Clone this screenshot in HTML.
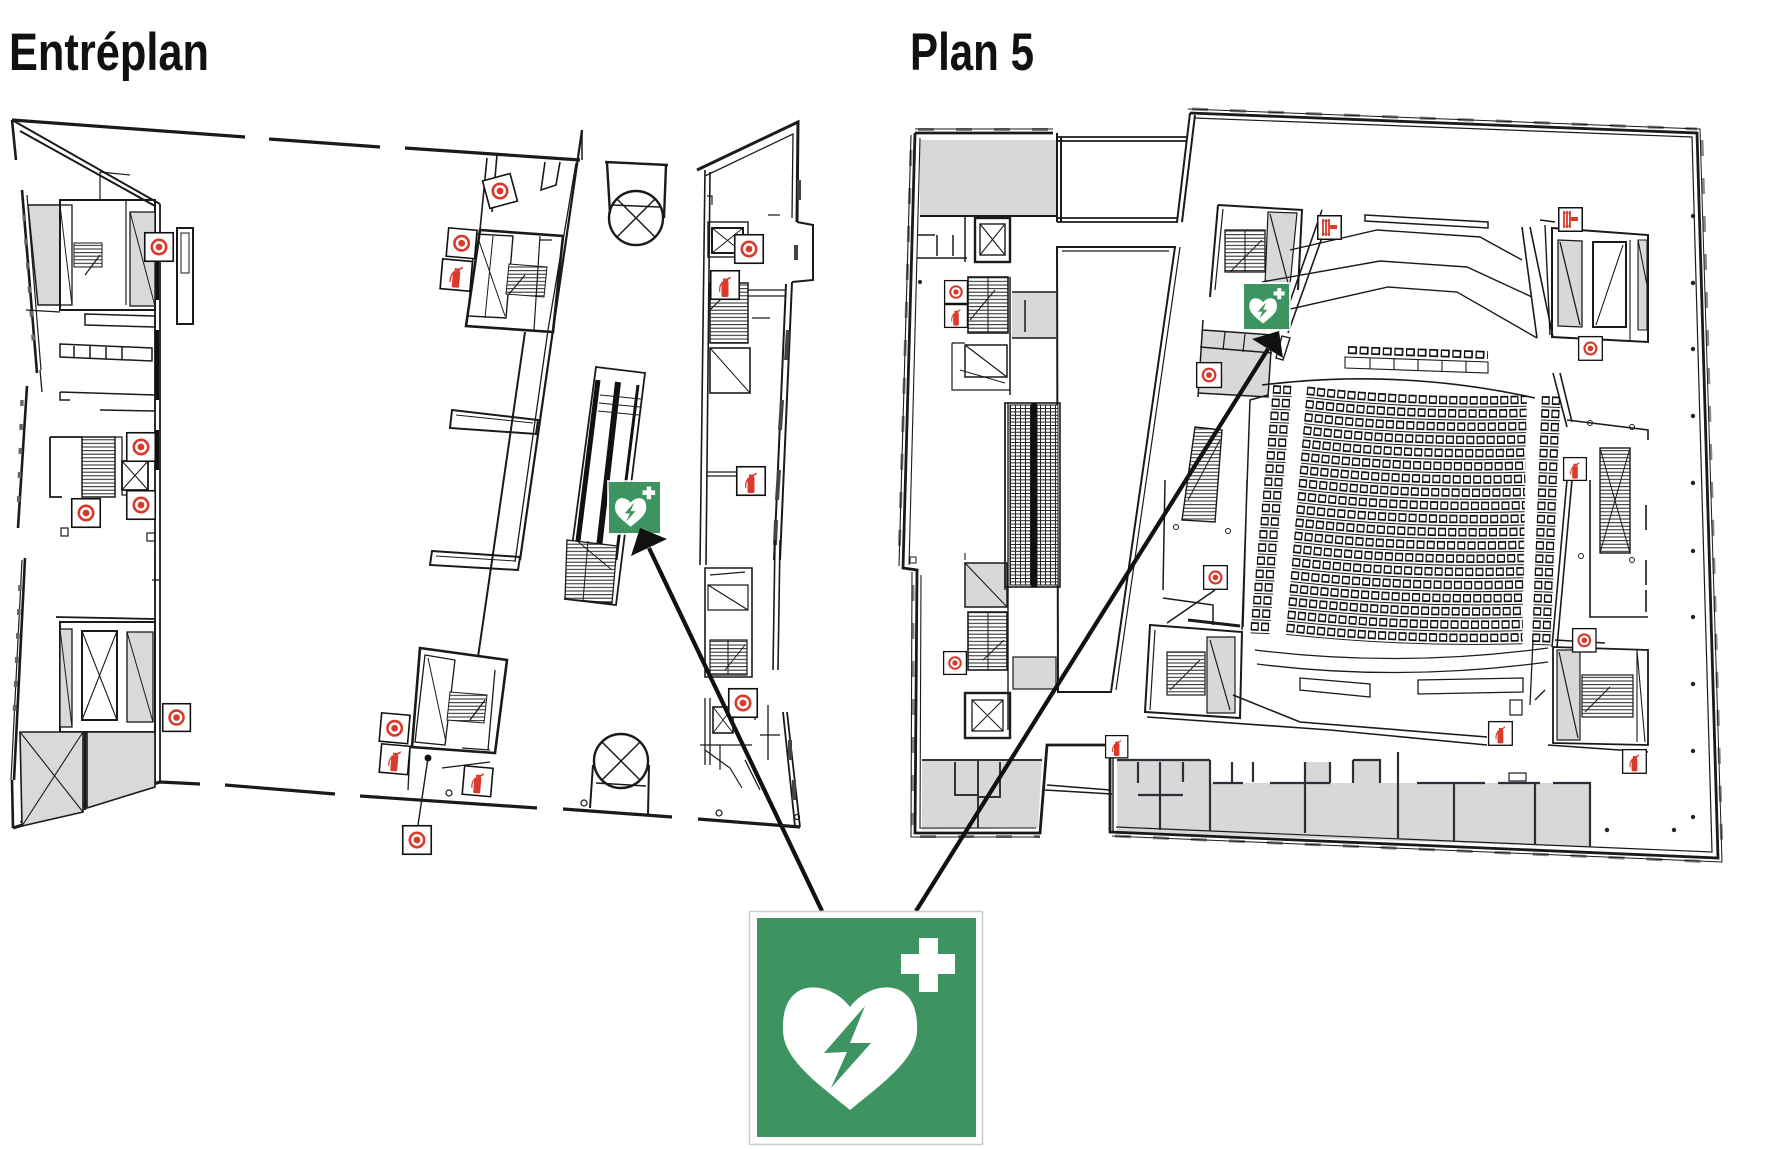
<!DOCTYPE html>
<html><head><meta charset="utf-8"><style>html,body{margin:0;padding:0;background:#fff}svg{display:block}</style></head>
<body>
<svg width="1770" height="1150" viewBox="0 0 1770 1150" xmlns="http://www.w3.org/2000/svg">
<defs>
 <g id="tg"><rect x="0.75" y="0.75" width="28.5" height="28.5" fill="#fff" stroke="#111" stroke-width="1.6"/><circle cx="15" cy="15" r="7.2" fill="none" stroke="#d83a2c" stroke-width="2.6"/><circle cx="15" cy="15" r="3.4" fill="#d83a2c"/></g>
 <g id="ex"><rect x="0.75" y="0.75" width="28.5" height="28.5" fill="#fff" stroke="#111" stroke-width="1.6"/><path d="M11.5,11.5 h7 v14 q0,1.5 -1.5,1.5 h-4 q-1.5,0 -1.5,-1.5z" fill="#d83a2c"/><path d="M13,11.5 v-3 h4 l3.5,-2 v2 l-2.5,1.2 v1.8z" fill="#d83a2c"/><path d="M12,13 q-3,3 -2.2,9" stroke="#d83a2c" stroke-width="1.3" fill="none"/></g>
 <g id="hr"><rect x="0.75" y="0.75" width="23.5" height="23.5" fill="#fff" stroke="#111" stroke-width="1.5"/><path d="M6,4 v17 M9,4 v17 M12,4 v17" stroke="#d83a2c" stroke-width="1.8"/><path d="M5,6 h8 M5,19 h8" stroke="#d83a2c" stroke-width="1.2"/><rect x="13" y="10" width="7" height="4" fill="#d83a2c"/></g>
 <g id="aed"><rect width="219" height="219" fill="#3d9461"/><path d="M93,89 C113,62 162,57 160,112 C160,142 123,167 93,192 C63,167 26,142 26,112 C24,57 73,62 93,89 Z" fill="#fff"/><path d="M108,88 L67,135 L90,134 L74,170 L114,125 L93,125 Z" fill="#3d9461"/><path d="M162,20 h19 v16 h17 v20 h-17 v18 h-19 v-18 h-18 v-20 h18 z" fill="#fff"/></g>
 <pattern id="st" width="10" height="3.6" patternUnits="userSpaceOnUse"><rect width="10" height="3.6" fill="#fff"/><path d="M0,0.6 h10" stroke="#222" stroke-width="1"/></pattern>
 <pattern id="esc" width="5" height="3.4" patternUnits="userSpaceOnUse"><rect width="5" height="3.4" fill="#fff"/><path d="M0,0.5 h5 M0.5,0 v3.4" stroke="#222" stroke-width="1"/></pattern>
 <path id="rows" d="M1302,395 Q1410,403 1522,395 M1268,395 h19 M1537,395 h19
M1301.4,408.2 Q1410,416.2 1522.3,408.2 M1267.3,408.2 h19 M1537,408.2 h19
M1300.8,421.4 Q1410,429.4 1522.6,421.4 M1266.6,421.4 h19 M1537,421.4 h19
M1300.2,434.6 Q1410,442.6 1522.9,434.6 M1265.9,434.6 h19 M1537,434.6 h19
M1299.6,447.8 Q1410,455.8 1523.2,447.8 M1265.2,447.8 h19 M1537,447.8 h19
M1299,461 Q1410,469 1523.5,461 M1264.5,461 h19 M1537,461 h19
M1298.4,474.2 Q1410,482.2 1523.8,474.2 M1263.8,474.2 h19 M1537,474.2 h19
M1297.8,487.4 Q1410,495.4 1524.1,487.4 M1263.1,487.4 h19 M1537,487.4 h19
M1297.2,500.6 Q1410,508.6 1524.4,500.6 M1262.4,500.6 h19 M1537,500.6 h19
M1296.6,513.8 Q1410,521.8 1524.7,513.8 M1261.7,513.8 h19 M1537,513.8 h19
M1296,527 Q1410,535 1525,527 M1261,527 h19 M1537,527 h19
M1295.4,540.2 Q1410,548.2 1525.3,540.2 M1260.3,540.2 h19 M1537,540.2 h19
M1294.8,553.4 Q1410,561.4 1525.6,553.4 M1259.6,553.4 h19 M1537,553.4 h19
M1294.2,566.6 Q1410,574.6 1525.9,566.6 M1258.9,566.6 h19 M1537,566.6 h19
M1293.6,579.8 Q1410,587.8 1526.2,579.8 M1258.2,579.8 h19 M1537,579.8 h19
M1293,593 Q1410,601 1526.5,593 M1257.5,593 h19 M1537,593 h19
M1292.4,606.2 Q1410,614.2 1526.8,606.2 M1256.8,606.2 h19 M1537,606.2 h19
M1291.8,619.4 Q1410,627.4 1527.1,619.4 M1256.1,619.4 h19 M1537,619.4 h19
M1291.2,632.6 Q1410,640.6 1527.4,632.6 M1255.4,632.6 h19 M1537,632.6 h19"/>
</defs>

<rect width="1770" height="1150" fill="#fff"/>

<!-- Titles -->
<text x="9" y="70" font-family="'Liberation Sans Narrow','Liberation Sans',sans-serif" font-weight="bold" font-size="53" textLength="200" lengthAdjust="spacingAndGlyphs" fill="#111">Entréplan</text>
<text x="910" y="70" font-family="'Liberation Sans Narrow','Liberation Sans',sans-serif" font-weight="bold" font-size="53" textLength="124" lengthAdjust="spacingAndGlyphs" fill="#111">Plan 5</text>

<!-- ================= LEFT PLAN (Entréplan) ================= -->
<g fill="none" stroke="#1a1a1a" stroke-linejoin="miter">
 <path d="M12,120 L245,137 M269,139 L380,147 M405,148 L580,160" stroke-width="3.2"/>
 <path d="M12,120 L160,204 M20,131 L155,206" stroke-width="2"/>
 <path d="M12,120 L16,160 M22,190 L37,373 M27,386 L18,528 M25,558 L14,780 M12,780 L13,828" stroke-width="2.6"/>
 <path d="M27,195 L41,370 M22,560 L11,780" stroke-width="1.2"/>
 <path d="M24,215 L34,350 M22,400 L18,520 M20,585 L14,720" stroke="#666" stroke-width="3.5" stroke-dasharray="6 18"/>
 <path d="M13,828 L160,782 M160,782 L200,784 M225,785 L335,794 M360,796 L537,808 M563,809 L672,817 M698,819 L800,827" stroke-width="3.2"/>
 <path d="M20,822 L156,780" stroke-width="1.3"/>
 <path d="M160,204 L160,782 M155,206 L155,782" stroke-width="1.8"/>
 <path d="M157,252 L157,300 M157,330 L157,400 M157,430 L157,470" stroke="#111" stroke-width="4"/>
 <path d="M28,205 L60,205 L60,305 L38,305 Z" fill="#d9d9d9" stroke-width="1.5"/>
 <rect x="60" y="200" width="95" height="110" stroke-width="2"/>
 <rect x="60" y="205" width="12" height="100" stroke-width="1.3"/>
 <path d="M60,205 L72,305" stroke-width="1"/>
 <rect x="74" y="243" width="28" height="24" fill="url(#st)" stroke-width="1"/>
 <path d="M85,275 L100,255 M126,200 L126,305 M100,172 L130,175 M100,172 L100,200" stroke-width="1.2"/>
 <rect x="130" y="212" width="25" height="94" fill="#d9d9d9" stroke-width="1.3"/>
 <path d="M130,212 L155,306" stroke-width="1"/>
 <rect x="177" y="228" width="16" height="96" stroke-width="2"/>
 <rect x="181" y="233" width="8" height="40" stroke-width="1"/>
 <path d="M85,314 L155,316 L155,327 L85,325 Z" stroke-width="1.5"/>
 <path d="M60,344 L152,348 L152,361 L60,357 Z M74,346 L74,358 M90,346 L90,359 M106,347 L106,360 M122,347 L122,360" stroke-width="1.5"/>
 <path d="M60,392 L155,395 L155,411 L100,410 M60,392 L60,400 L70,400" stroke-width="1.5"/>
 <path d="M26,310 L60,312 M40,370 L42,392" stroke-width="1.3"/>
 <path d="M50,437 L82,437 M50,437 L50,497 L62,497" stroke-width="1.8"/>
 <rect x="82" y="437" width="33" height="60" fill="url(#st)" stroke-width="1.5"/>
 <rect x="122" y="461" width="26" height="29" stroke-width="1.8"/>
 <path d="M122,461 L148,490 M148,461 L122,490" stroke-width="1.1"/>
 <path d="M115,437 L122,437 L122,495 L126,495" stroke-width="1.3"/>
 <rect x="61" y="528" width="7" height="8" stroke-width="1.2"/>
 <rect x="147" y="533" width="8" height="8" stroke-width="1.2"/>
 <path d="M56,617 L155,619" stroke-width="1.8"/>
 <rect x="60" y="622" width="95" height="110" stroke-width="2"/>
 <rect x="60" y="629" width="12" height="98" fill="#d9d9d9" stroke-width="1.3"/>
 <path d="M60,629 L72,727" stroke-width="1"/>
 <rect x="82" y="631" width="35" height="89" stroke-width="2"/>
 <path d="M82,631 L117,720 M117,631 L82,720" stroke-width="1.1"/>
 <rect x="127" y="632" width="26" height="90" fill="#d9d9d9" stroke-width="1.3"/>
 <path d="M127,632 L153,722" stroke-width="1"/>
 <path d="M155,555 L155,600 M152,580 L160,580" stroke-width="1.3"/>
 <path d="M20,732 L83,732 L83,812 L22,826 Z" fill="#d9d9d9" stroke-width="1.6"/>
 <path d="M20,732 L83,812 M83,732 L22,826" stroke-width="1.1"/>
 <path d="M87,732 L155,732 L155,787 L87,808 Z" fill="#d9d9d9" stroke-width="1.6"/>
 <path d="M85,732 L85,810" stroke-width="2.4"/>

 <path d="M487,158 L480,230 M497,155 L492,212 M545,162 L541,190 L556,185 L560,162" stroke-width="1.6"/>
 <path d="M480,230 L563,236 L553,332 L466,326 Z" stroke-width="2.6"/>
 <path d="M475,234 L513,236 L506,318 L468,316 Z" stroke-width="1.4"/>
 <path d="M478,238 L505,316 M493,236 L485,318" stroke-width="1"/>
 <path d="M509,264 L547,267 L544,297 L506,294 Z" fill="url(#st)" stroke-width="1"/>
 <path d="M509,294 L525,275 M540,236 L534,330 M540,240 L552,240" stroke-width="1.2"/>
 <path d="M582,130 L553,330 L520,560" stroke-width="2.2"/>
 <path d="M576,163 L548,330 L515,562" stroke-width="1.3"/>
 <path d="M525,332 L495,540 L478,657" stroke-width="2"/>
 <path d="M452,410 L538,420 L536,434 L450,428 Z" stroke-width="2"/>
 <path d="M456,415 L533,423" stroke-width="1"/>
 <path d="M432,551 L520,557 L518,570 L430,565 Z" stroke-width="2"/>
 <path d="M436,556 L515,561" stroke-width="1"/>
 <path d="M420,648 L507,660 L495,753 L412,747 Z" stroke-width="2.6"/>
 <path d="M425,655 L455,660 L445,745 L415,742 Z" stroke-width="1.3"/>
 <path d="M428,658 L446,742" stroke-width="1"/>
 <path d="M450,692 L487,695 L484,723 L447,720 Z" fill="url(#st)" stroke-width="1"/>
 <path d="M470,720 L485,700 M495,670 L488,750 M462,748 L490,750 M442,768 L490,762 M410,750 L408,790" stroke-width="1.3"/>
 <path d="M418,825 L428,758" stroke-width="1.4"/>
 <circle cx="428" cy="758" r="3" fill="#111"/>
 <circle cx="449" cy="793" r="3" stroke-width="1.2"/>
 <circle cx="584" cy="803" r="3" stroke-width="1.2"/>
 <circle cx="719" cy="813" r="3" stroke-width="1.2"/>
 <circle cx="797" cy="817" r="2.5" stroke-width="1.2"/>
 <path d="M605,162 L668,165 M607,163 L610,213 M666,165 L664,218" stroke-width="2.4"/>
 <circle cx="636" cy="218" r="27" stroke-width="2.4"/>
 <path d="M617,199 L655,237 M655,199 L617,237 M612,205 L660,207" stroke-width="1.5"/>
 <circle cx="621" cy="761" r="27" stroke-width="2.4"/>
 <path d="M602,742 L640,780 M640,742 L602,780 M596,783 L646,786" stroke-width="1.5"/>
 <path d="M593,765 L590,808 M649,765 L648,815" stroke-width="2"/>
 <path d="M596,367 L645,373 L616,605 L565,599 Z" stroke-width="1.8"/>
 <path d="M598,380 L575,565" stroke="#111" stroke-width="5"/>
 <path d="M618,382 L597,565" stroke="#111" stroke-width="6"/>
 <path d="M638,385 L616,560" stroke="#111" stroke-width="3"/>
 <path d="M600,395 L641,399 M599,403 L640,407 M598,411 L639,415" stroke-width="1"/>
 <path d="M567,540 L617,546 L612,603 L565,599 Z" fill="url(#st)" stroke-width="1.3"/>
 <path d="M588,541 L583,601 M576,540 L612,570" stroke-width="1"/>

 <path d="M697,170 L798,122 L797,222" stroke-width="3"/>
 <path d="M705,176 L793,134 L792,218" stroke-width="1.3"/>
 <path d="M797,222 L813,225 L813,280 L792,282 M792,282 L780,560 M786,284 L774,560" stroke-width="2"/>
 <path d="M705,170 L700,565 M710,172 L706,565" stroke-width="1.6"/>
 <path d="M799,180 L799,200 M796,245 L796,260 M788,330 L786,360 M782,400 L780,430 M779,470 L777,500 M776,520 L775,545" stroke="#444" stroke-width="4"/>
 <path d="M780,540 L778,670 M775,540 L773,670" stroke-width="1.6"/>
 <path d="M787,712 L800,827 M783,712 L795,826" stroke-width="1.8"/>
 <path d="M790,740 L790,760 M794,780 L794,800" stroke="#444" stroke-width="4"/>
 <rect x="708" y="222" width="40" height="35" stroke-width="1.4"/>
 <rect x="712" y="228" width="31" height="25" stroke-width="2"/>
 <path d="M712,228 L743,253 M743,228 L712,253" stroke-width="1"/>
 <path d="M707,196 L712,196 L712,205 M768,215 L780,215" stroke-width="1.2"/>
 <rect x="710" y="283" width="38" height="60" fill="url(#st)" stroke-width="1.5"/>
 <path d="M710,310 L730,290 M748,290 L785,290 M748,296 L785,296 M752,318 L770,318" stroke-width="1.2"/>
 <rect x="710" y="348" width="40" height="45" stroke-width="1.6"/>
 <path d="M710,348 L750,393" stroke-width="1"/>
 <path d="M706,472 L736,472 M706,476 L736,476" stroke-width="1.2"/>
 <path d="M705,568 L752,568 L752,677 L705,677 Z" stroke-width="1.6"/>
 <path d="M710,575 L745,572 M708,585 L748,585 L748,610 L708,610 Z M708,585 L748,610" stroke-width="1.2"/>
 <rect x="710" y="640" width="37" height="35" fill="url(#st)" stroke-width="1.2"/>
 <path d="M725,670 L745,645 M728,640 L728,675" stroke-width="1"/>
 <path d="M705,698 L705,765 M710,698 L710,765 M700,745 L752,745 M745,760 L760,790 M755,700 L755,720 M768,705 L768,760 M760,735 L780,735" stroke-width="1.3"/>
 <rect x="713" y="707" width="20" height="26" stroke-width="1.6"/>
 <path d="M713,707 L733,733 M733,707 L713,733" stroke-width="1"/>
 <path d="M705,750 L730,768 L742,788 M720,745 L720,770" stroke-width="1.2"/>
 <path d="M582,130 L582,160" stroke-width="1.5"/>
</g>

<use href="#tg" transform="translate(144,232)"/>
<use href="#tg" transform="translate(126,432)"/>
<use href="#tg" transform="translate(126,490)"/>
<use href="#tg" transform="translate(71,498)"/>
<use href="#tg" transform="translate(162,703) scale(0.97)"/>
<use href="#tg" transform="translate(500,191) rotate(-15) translate(-15,-15)"/>
<use href="#tg" transform="translate(448,227) rotate(5)"/>
<use href="#ex" transform="translate(442,258) rotate(5) scale(1.05)"/>
<use href="#tg" transform="translate(734,234)"/>
<use href="#ex" transform="translate(710,270)"/>
<use href="#ex" transform="translate(736,466)"/>
<use href="#tg" transform="translate(728,688)"/>
<use href="#tg" transform="translate(381,712) rotate(5)"/>
<use href="#ex" transform="translate(381,743) rotate(5)"/>
<use href="#ex" transform="translate(464,765) rotate(5)"/>
<use href="#tg" transform="translate(402,825)"/>

<!-- ================= RIGHT PLAN (Plan 5) ================= -->
<g fill="#d8d8d8" stroke="none">
 <path d="M920,140 L1056,140 L1056,215 L920,215 Z"/>
 <path d="M922,760 L1042,760 L1038,828 L922,830 Z"/>
 <path d="M1117,760 L1210,760 L1210,783 L1590,783 L1590,847 L1117,832 Z"/>
 <rect x="1305" y="762" width="25" height="21"/>
 <rect x="1353" y="760" width="27" height="23"/>
 <rect x="1012" y="292" width="44" height="46"/>
 <rect x="965" y="563" width="42" height="44"/>
 <rect x="1013" y="657" width="43" height="32"/>
 <path d="M1203,330 L1272,335 L1268,397 L1198,393 Z"/>
 <path d="M1268,212 L1297,213 L1290,285 L1265,285 Z"/>
 <rect x="1207" y="637" width="28" height="76"/>
 <path d="M1558,240 L1582,241 L1582,327 L1558,326 Z"/>
 <rect x="1638" y="240" width="9" height="90"/>
 <rect x="1557" y="650" width="23" height="90"/>
</g>

<g fill="none" stroke="#1a1a1a">
 <!-- window bumps (subtle) -->
 <g stroke="#888" stroke-width="3" stroke-dasharray="16 22">
  <path d="M918,129.5 L1053,129.5"/>
  <path d="M1192,109 L1697,129"/>
  <path d="M1702,140 L1722,855"/>
  <path d="M1115,836 L1715,862"/>
  <path d="M920,836.5 L1040,836.5"/>
  <path d="M911,150 L899,560"/>
  <path d="M913,585 L913,825"/>
 </g>
 <!-- outer walls -->
 <path d="M1190,113 L1697,133 L1718,858 L1110,832 L1110,757" stroke-width="2.8"/>
 <path d="M1194,118 L1692,137 L1712,852 L1116,827" stroke-width="1.2"/>
 <path d="M1188,109 L1700,129 L1722,862 L1112,836" stroke-width="1"/>
 <path d="M915,133 L1053,133" stroke-width="2.8"/>
 <path d="M915,129 L1053,129" stroke-width="1"/>
 <path d="M915,133 L903,568 L917,570 L915,833 L1040,833 L1047,745 L1105,745" stroke-width="2.8"/>
 <path d="M920,138 L909,565 M921,575 L920,828 L1036,828 M911,135 L899,566 M912,572 L911,837 L1040,837" stroke-width="1.1"/>
 <path d="M1047,785 L1110,790 M1045,790 L1112,794" stroke-width="1.4"/>
 <path d="M1057,133 L1057,222 M1061,137 L1061,222" stroke-width="2"/>
 <path d="M1057,137 L1188,137 M1057,141 L1187,141 M1057,222 L1178,222 M1057,218 L1178,218" stroke-width="1.8"/>
 <path d="M1190,113 L1177,222 M1195,115 L1182,222" stroke-width="2"/>
 <path d="M1057,247 L1175,247 L1111,692 L1058,692 Z" stroke-width="2"/>
 <path d="M1062,251 L1169,251 M1180,247 L1116,690" stroke-width="1.2"/>
 <path d="M920,216 L1056,216" stroke-width="2"/>
 <path d="M917,235 L935,235 M937,235 L937,256 M953,235 L953,256 M917,258 L967,258 M965,217 L965,262" stroke-width="1.5"/>
 <rect x="975" y="218" width="35" height="44" stroke-width="2.4"/>
 <rect x="980" y="224" width="25" height="31" stroke-width="1.4"/>
 <path d="M980,224 L1005,255 M1005,224 L980,255" stroke-width="1.1"/>
 <rect x="968" y="277" width="40" height="56" fill="url(#st)" stroke-width="1.6"/>
 <path d="M970,320 L995,290 M988,277 L988,333" stroke-width="1"/>
 <path d="M1010,277 L1010,395 M1012,292 L1056,292 M1012,338 L1056,338 M1025,300 L1025,332" stroke-width="1.5"/>
 <rect x="965" y="345" width="42" height="32" stroke-width="1.5"/>
 <path d="M965,345 L1007,377 M952,343 L952,390 L1010,390 M952,343 L965,343" stroke-width="1.2"/>
 <path d="M960,370 L1005,383" stroke-width="1"/>
 <rect x="1005" y="403" width="55" height="184" stroke-width="1.6"/>
 <rect x="1010" y="405" width="21" height="180" fill="url(#esc)" stroke-width="1"/>
 <rect x="1037" y="405" width="21" height="180" fill="url(#esc)" stroke-width="1"/>
 <rect x="1031" y="403" width="6" height="184" fill="#111" stroke="none"/>
 <path d="M1008,403 L1008,730 M1005,403 L1005,590" stroke-width="1.4"/>
 <rect x="965" y="563" width="42" height="44" stroke-width="1.5"/>
 <path d="M965,563 L1007,607 M965,553 L965,560" stroke-width="1.1"/>
 <rect x="968" y="612" width="39" height="58" fill="url(#st)" stroke-width="1.6"/>
 <path d="M983,660 L1004,640 M988,612 L988,670" stroke-width="1"/>
 <rect x="1013" y="657" width="43" height="32" stroke-width="1.2"/>
 <rect x="965" y="693" width="45" height="45" stroke-width="2.4"/>
 <rect x="972" y="700" width="31" height="31" stroke-width="1.3"/>
 <path d="M972,700 L1003,731 M1003,700 L972,731" stroke-width="1"/>
 <rect x="910" y="557" width="6" height="6" stroke-width="1"/>
 <path d="M922,760 L1042,760 M955,762 L955,795 L977,795 M978,760 L978,828 M1000,762 L1000,797 L978,797" stroke="#333" stroke-width="2"/>
 <path d="M1117,760 L1210,760 M1138,762 L1138,783 M1138,795 L1183,795 M1160,762 L1160,830 M1183,762 L1183,782 M1210,760 L1210,831 M1213,783 L1243,783 M1232,762 L1232,782 M1253,762 L1253,782 M1270,783 L1330,783 M1305,762 L1305,833 M1330,762 L1330,783 M1353,760 L1380,760 L1380,783 M1353,760 L1353,783 M1398,752 L1398,838 M1417,783 L1485,783 M1454,783 L1454,842 M1498,783 L1540,783 M1535,783 L1535,845 M1553,783 L1590,783 L1590,847" stroke="#2a2f38" stroke-width="2.2"/>
 <rect x="1509" y="773" width="17" height="8" stroke-width="1.2"/>
 <path d="M1113,757 L1113,832" stroke-width="1.4"/>

 <path d="M1218,205 L1302,210 L1298,290 M1218,205 L1210,297" stroke-width="2"/>
 <path d="M1223,209 L1215,290" stroke-width="1.2"/>
 <rect x="1225" y="230" width="40" height="42" fill="url(#st)" stroke-width="1.3"/>
 <path d="M1230,272 L1262,240 M1245,230 L1245,272" stroke-width="1"/>
 <path d="M1268,212 L1297,213 L1290,285 L1265,285 Z M1270,214 L1288,283" stroke-width="1.2"/>
 <path d="M1203,320 L1198,397 M1200,347 L1272,353 M1203,330 L1272,335 M1198,393 L1268,397 L1272,335" stroke-width="1.5"/>
 <path d="M1225,332 L1223,350 M1245,334 L1243,352" stroke-width="1.2"/>
 <path d="M1282,336 L1290,338 L1283,360 L1276,358 Z" stroke-width="1.4"/>
 <path d="M1195,427 L1222,430 L1215,522 L1182,520 Z" fill="url(#st)" stroke-width="1.4"/>
 <path d="M1188,500 L1220,440" stroke-width="1"/>
 <path d="M1165,480 L1163,590 M1163,598 L1213,605 L1213,625 M1215,590 L1167,623" stroke-width="1.5"/>
 <circle cx="1176" cy="527" r="2.5" stroke-width="1"/>
 <circle cx="1228" cy="531" r="2.5" stroke-width="1"/>
 <path d="M1150,625 L1242,632 L1240,718 L1145,712 Z" stroke-width="2"/>
 <path d="M1155,630 L1150,710" stroke-width="1.2"/>
 <rect x="1167" y="652" width="38" height="43" fill="url(#st)" stroke-width="1.2"/>
 <path d="M1170,690 L1200,660" stroke-width="1"/>
 <path d="M1207,637 L1235,637 L1235,713 L1207,713 Z M1210,640 L1230,710" stroke-width="1.2"/>
 <path d="M1188,620 L1240,626" stroke-width="3"/>
 <path d="M1322,210 L1280,330 M1330,215 L1288,333" stroke-width="1.6"/>
 <path d="M1268,395 L1250,400 L1242,630 M1247,480 L1243,627" stroke-width="1.5"/>
 <path d="M1522,227 L1537,338 M1530,227 L1553,337 M1553,373 L1567,427 M1560,373 L1572,422 M1567,480 L1552,647 M1572,480 L1557,647" stroke-width="1.6"/>
 <path d="M1365,215 L1488,222 L1488,228 L1365,221 Z" stroke-width="1.5"/>
 <path d="M1290,250 L1377,230 L1480,237 L1522,260" stroke-width="1.4"/>
 <path d="M1262,282 L1380,261 L1467,267 L1532,297" stroke-width="1.4"/>
 <path d="M1255,317 L1388,287 L1457,292 L1537,338" stroke-width="1.4"/>
 <path d="M1348,350 L1488,355" stroke="#111" stroke-width="8" stroke-dasharray="9 2.6"/>
 <path d="M1348,350 L1488,355" stroke="#fff" stroke-width="4.6" stroke-dasharray="6 5.6" stroke-dashoffset="-1.3"/>
 <path d="M1345,357 L1488,362 L1488,373 L1345,368 Z M1370,358 L1370,369 M1394,359 L1394,370 M1418,360 L1418,371 M1442,361 L1442,372 M1466,361 L1466,372" stroke-width="1.1"/>
 <path d="M1262,385 Q1400,368 1535,398" stroke-width="1.6"/>
 <path d="M1255,650 Q1400,668 1548,648 M1257,664 Q1400,682 1548,662" stroke-width="1.3"/>
 <path d="M1300,678 L1370,684 L1370,697 L1300,690 Z M1418,680 L1523,678 L1523,692 L1418,694 Z" stroke-width="1.3"/>
 <path d="M1233,695 L1300,722 L1487,737 M1147,717 L1330,730 L1487,745" stroke-width="1.6"/>
 <path d="M1533,640 L1530,705 M1535,700 L1545,690" stroke-width="1.3"/>
 <rect x="1510" y="700" width="12" height="15" stroke-width="1.2"/>
 <path d="M1552,228 L1648,235 L1648,342 L1552,337 Z" stroke-width="2"/>
 <path d="M1558,240 L1582,241 L1582,327 L1558,326 Z M1560,242 L1580,325" stroke-width="1.3"/>
 <rect x="1593" y="242" width="33" height="85" stroke-width="2"/>
 <path d="M1596,325 L1623,245 M1630,240 L1630,340" stroke-width="1.1"/>
 <path d="M1638,240 L1647,240 L1647,330 L1638,330 Z M1638,240 L1647,285" stroke-width="1.1"/>
 <path d="M1545,225 L1550,335 M1540,220 L1555,222" stroke-width="1.4"/>
 <path d="M1567,420 L1648,430 L1648,440 M1590,480 L1590,617 L1648,617 M1646,505 L1646,530 M1646,560 L1646,585 M1646,590 L1646,612" stroke-width="1.6"/>
 <circle cx="1590" cy="423" r="2.5" stroke-width="1"/>
 <circle cx="1632" cy="427" r="2.5" stroke-width="1"/>
 <circle cx="1581" cy="556" r="2.5" stroke-width="1"/>
 <circle cx="1632" cy="560" r="2.5" stroke-width="1"/>
 <rect x="1600" y="448" width="30" height="105" fill="url(#st)" stroke-width="1.4"/>
 <path d="M1600,448 L1630,553 M1630,448 L1600,553" stroke-width="1"/>
 <path d="M1553,647 L1648,650 L1648,745 L1553,743 Z" stroke-width="1.8"/>
 <path d="M1557,650 L1580,650 L1580,740 L1557,740 Z M1559,652 L1578,738" stroke-width="1.2"/>
 <rect x="1582" y="675" width="51" height="42" fill="url(#st)" stroke-width="1.2"/>
 <path d="M1585,712 L1610,687 M1637,650 L1645,742 M1637,650 L1637,742" stroke-width="1.1"/>
 <path d="M1555,640 L1605,643 M1548,745 L1648,752" stroke-width="1.4"/>
 <g fill="#222" stroke="none">
  <circle cx="1693" cy="216" r="2.2"/><circle cx="1693" cy="283" r="2.2"/><circle cx="1693" cy="349" r="2.2"/><circle cx="1693" cy="416" r="2.2"/><circle cx="1693" cy="483" r="2.2"/><circle cx="1693" cy="551" r="2.2"/><circle cx="1693" cy="617" r="2.2"/><circle cx="1693" cy="684" r="2.2"/><circle cx="1693" cy="751" r="2.2"/><circle cx="1693" cy="817" r="2.2"/><circle cx="1607" cy="830" r="2.2"/><circle cx="1674" cy="830" r="2.2"/><circle cx="920" cy="282" r="2"/>
 </g>
</g>

<g transform="rotate(2.3 1410 515)">
 <use href="#rows" fill="none" stroke="#222" stroke-width="1" transform="translate(0,6.6)"/>
 <use href="#rows" fill="none" stroke="#111" stroke-width="8.5" stroke-dasharray="8 2.2"/>
 <use href="#rows" fill="none" stroke="#fff" stroke-width="5" stroke-dasharray="5.5 4.7" stroke-dashoffset="-1.25"/>
</g>

<use href="#tg" transform="translate(944,280) scale(0.8)"/>
<use href="#ex" transform="translate(944,304) scale(0.8)"/>
<use href="#tg" transform="translate(943,651) scale(0.8)"/>
<use href="#ex" transform="translate(1105,735) scale(0.78)"/>
<use href="#tg" transform="translate(1196,362) scale(0.87)"/>
<use href="#tg" transform="translate(1203,565) scale(0.83)"/>
<use href="#hr" transform="translate(1317,215)"/>
<use href="#hr" transform="translate(1558,207)"/>
<use href="#tg" transform="translate(1578,336) scale(0.83)"/>
<use href="#ex" transform="translate(1563,457) scale(0.8)"/>
<use href="#tg" transform="translate(1572,628) scale(0.82)"/>
<use href="#ex" transform="translate(1622,749) scale(0.83)"/>
<use href="#ex" transform="translate(1488,721) scale(0.83)"/>

<rect x="607" y="480" width="55" height="55" fill="#fff" opacity="0.8"/>
<use href="#aed" transform="translate(609,482) scale(0.2329)"/>
<rect x="1242" y="282" width="49" height="49" fill="#fff" opacity="0.8"/>
<use href="#aed" transform="translate(1244,284) scale(0.2055)"/>

<path d="M822,911 L649,548" stroke="#111" stroke-width="4.2" fill="none"/>
<path d="M640,528 L667,539 L631,556 Z" fill="#111"/>
<path d="M916,911 L1268,349" stroke="#111" stroke-width="4.2" fill="none"/>
<path d="M1279,331 L1283,358 L1252,339 Z" fill="#111"/>

<rect x="749.5" y="911.5" width="233" height="233" fill="#fff" stroke="#cfcfcf" stroke-width="1.6"/>
<use href="#aed" transform="translate(757,918)"/>
</svg>
</body></html>
